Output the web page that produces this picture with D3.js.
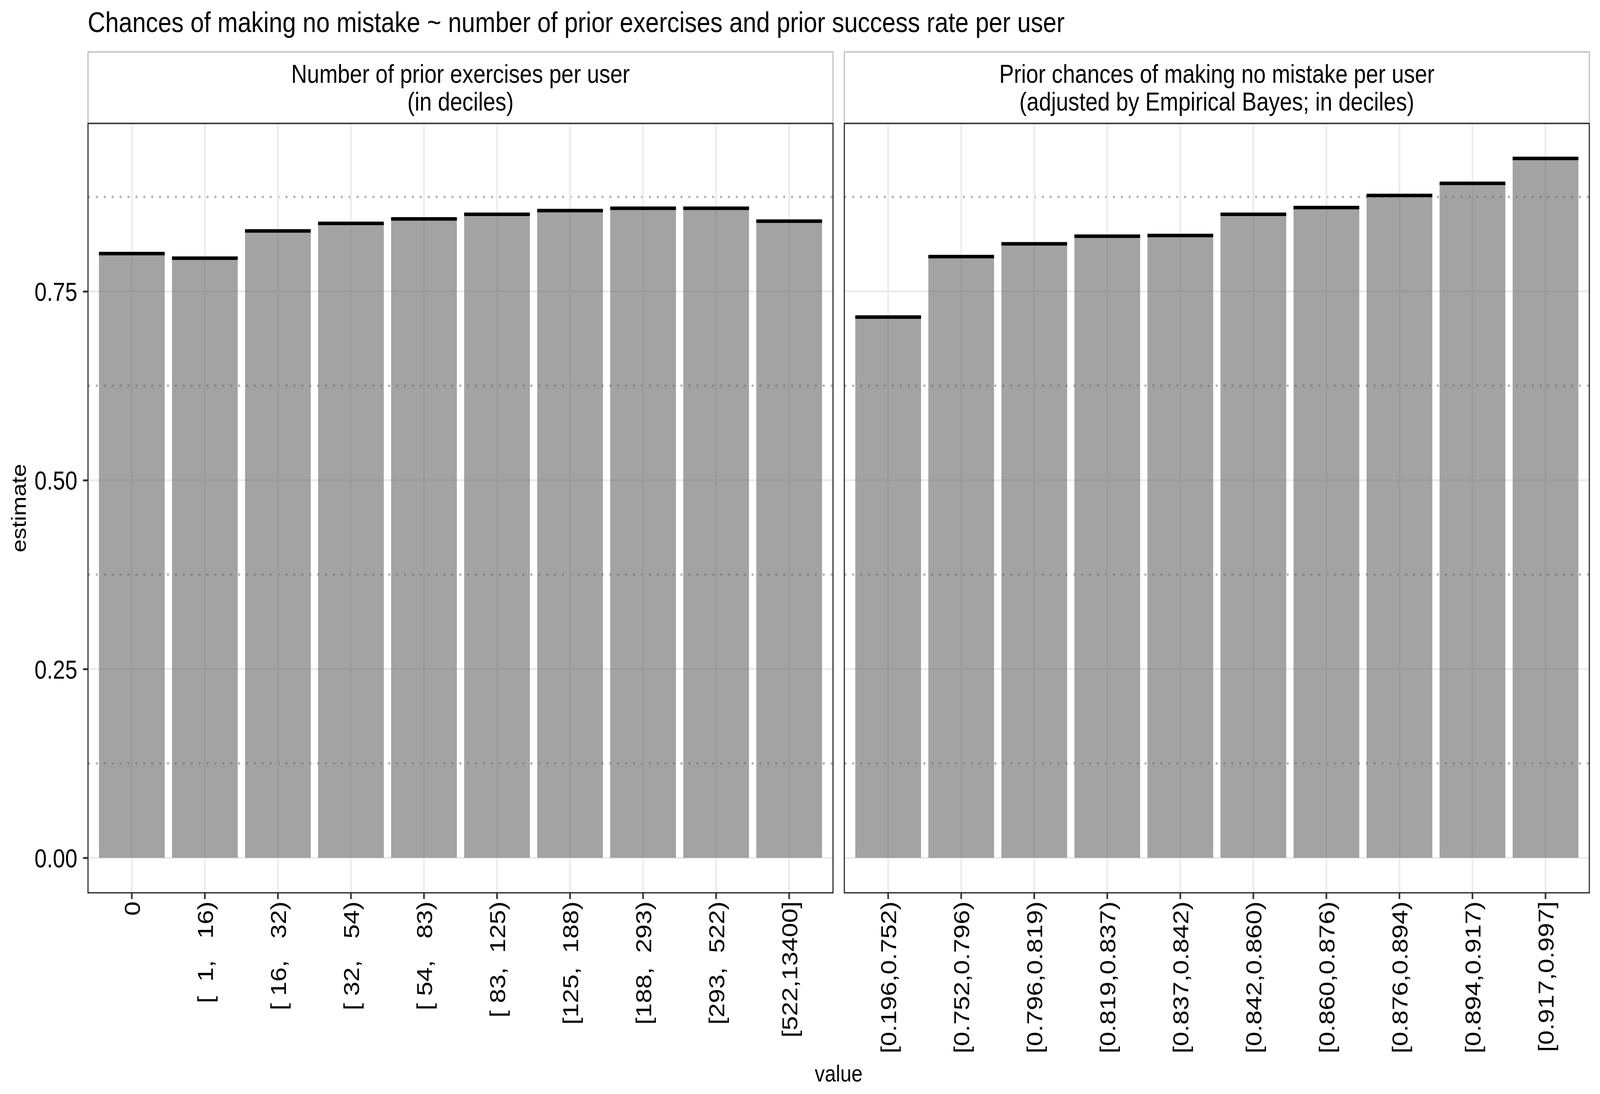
<!DOCTYPE html>
<html>
<head>
<meta charset="utf-8">
<script src="https://cdnjs.cloudflare.com/ajax/libs/d3/7.8.5/d3.min.js"></script>
<style>
  html, body { margin: 0; padding: 0; background: #fff; overflow: hidden; }
  svg { display: block; width: 100vw; height: 100vh; }
  text { font-family: "Liberation Sans", Arial, Helvetica, sans-serif; fill: #000; }
  .tick text { white-space: pre; }
</style>
</head>
<body>
<svg id="chart"></svg>
<script>
// categories and values
var leftLabels = ["0", "[  1,   16)", "[ 16,   32)", "[ 32,   54)", "[ 54,   83)",
                  "[ 83,  125)", "[125,  188)", "[188,  293)", "[293,  522)", "[522,13400]"];
var leftEstimates = [0.800, 0.794, 0.830, 0.840, 0.846, 0.852, 0.857, 0.860, 0.860, 0.843];

var rightLabels = ["[0.196,0.752)", "[0.752,0.796)", "[0.796,0.819)", "[0.819,0.837)", "[0.837,0.842)",
                   "[0.842,0.860)", "[0.860,0.876)", "[0.876,0.894)", "[0.894,0.917)", "[0.917,0.997]"];
var rightEstimates = [0.716, 0.796, 0.813, 0.823, 0.824, 0.852, 0.861, 0.877, 0.893, 0.926];

var stripLines = [
  ["Number of prior exercises per user", "(in deciles)"],
  ["Prior chances of making no mistake per user", "(adjusted by Empirical Bayes; in deciles)"]
];
var majorTicks = [0, 0.25, 0.5, 0.75];
var minorTicks = [0.125, 0.375, 0.625, 0.875];

var titleText = "Chances of making no mistake ~ number of prior exercises and prior success rate per user";

var screen = {width: 4800, height: 2800};
var panelTop = 316, panelBottom = 2285;
var panels = [
  {x0: 264, x1: 2499, labels: leftLabels, values: leftEstimates, strip: stripLines[0]},
  {x0: 2533, x1: 4768, labels: rightLabels, values: rightEstimates, strip: stripLines[1]}
];

// drawn in a 4800x2800 box, stretched to fill the whole window
var svg = d3.select("#chart")
  .attr("viewBox", "0 0 " + screen.width + " " + screen.height)
  .attr("preserveAspectRatio", "none");

var maxVal = d3.max(leftEstimates.concat(rightEstimates));
var yScale = d3.scaleLinear()
  .domain([-0.05 * maxVal, 1.05 * maxVal])
  .range([panelBottom, panelTop]);

svg.append("text")
  .text(titleText)
  .attr("x", 263)
  .attr("y", 82)
  .style("font-size", "73px");

var drawPanel = function(p, idx)
{
  var w = p.x1 - p.x0;
  var xScale = d3.scaleBand()
    .domain(p.labels)
    .range([0, w])
    .paddingInner(0.1)
    .paddingOuter(0.15);

  var g = svg.append("g")
    .attr("transform", "translate(" + p.x0 + "," + 0 + ")");

  // strip
  g.append("rect")
    .attr("x", 0).attr("y", 133)
    .attr("width", w).attr("height", panelTop - 134)
    .attr("fill", "#fff")
    .attr("stroke", "#b8b8b8")
    .attr("stroke-width", 3);
  g.append("text")
    .attr("text-anchor", "middle")
    .attr("x", w / 2).attr("y", 212)
    .style("font-size", "66px")
    .text(p.strip[0]);
  g.append("text")
    .attr("text-anchor", "middle")
    .attr("x", w / 2).attr("y", 283)
    .style("font-size", "66px")
    .text(p.strip[1]);

  // grid
  g.selectAll(".minor")
    .data(minorTicks)
    .enter().append("line")
    .attr("x1", 0).attr("x2", w)
    .attr("y1", function(d) { return yScale(d); })
    .attr("y2", function(d) { return yScale(d); })
    .attr("stroke", "#b3b3b3")
    .attr("stroke-width", 6)
    .attr("stroke-dasharray", "6 17.7");
  g.selectAll(".major")
    .data(majorTicks)
    .enter().append("line")
    .attr("x1", 0).attr("x2", w)
    .attr("y1", function(d) { return yScale(d); })
    .attr("y2", function(d) { return yScale(d); })
    .attr("stroke", "#ebebeb")
    .attr("stroke-width", 5);
  g.selectAll(".vgrid")
    .data(p.labels)
    .enter().append("line")
    .attr("x1", function(d) { return xScale(d) + xScale.bandwidth() / 2; })
    .attr("x2", function(d) { return xScale(d) + xScale.bandwidth() / 2; })
    .attr("y1", panelTop).attr("y2", panelBottom)
    .attr("stroke", "#ebebeb")
    .attr("stroke-width", 5);

  // bars
  g.selectAll(".bar")
    .data(p.values)
    .enter().append("rect")
    .attr("x", function(d, i) { return xScale(p.labels[i]); })
    .attr("width", xScale.bandwidth())
    .attr("y", function(d) { return yScale(d); })
    .attr("height", function(d) { return yScale(0) - yScale(d); })
    .attr("fill", "#666")
    .attr("fill-opacity", 0.6);

  // error bars (very narrow intervals)
  g.selectAll(".err")
    .data(p.values)
    .enter().append("line")
    .attr("x1", function(d, i) { return xScale(p.labels[i]); })
    .attr("x2", function(d, i) { return xScale(p.labels[i]) + xScale.bandwidth(); })
    .attr("y1", function(d) { return yScale(d); })
    .attr("y2", function(d) { return yScale(d); })
    .attr("stroke", "#000")
    .attr("stroke-width", 9);

  // border
  g.append("rect")
    .attr("x", 0).attr("y", panelTop)
    .attr("width", w).attr("height", panelBottom - panelTop)
    .attr("fill", "none")
    .attr("stroke", "#333")
    .attr("stroke-width", 3.5);

  // x axis
  var xAxis = d3.axisBottom(xScale).tickSize(16).tickSizeOuter(0);
  var ax = g.append("g")
    .attr("transform", "translate(0," + panelBottom + ")")
    .call(xAxis);
  ax.select(".domain").remove();
  ax.selectAll(".tick line").attr("stroke", "#333").attr("stroke-width", 5);
  ax.selectAll(".tick text")
    .attr("transform", "rotate(-90)")
    .attr("x", -22)
    .attr("y", 0)
    .attr("dy", "0.36em")
    .style("text-anchor", "end")
    .style("font-size", "66px")
    .style("font-family", "'Liberation Sans', Arial, sans-serif")
    .attr("fill", "#000");

  if (idx == 0)
  {
    var yAxis = d3.axisLeft(yScale)
      .tickValues(majorTicks)
      .tickFormat(d3.format(".2f"))
      .tickSize(15)
      .tickPadding(17);
    var ay = g.append("g").call(yAxis);
    ay.select(".domain").remove();
    ay.selectAll(".tick line").attr("stroke", "#333").attr("stroke-width", 5);
    ay.selectAll(".tick text")
      .attr("dy", "0.36em")
      .style("font-size", "66px")
      .style("font-family", "'Liberation Sans', Arial, sans-serif")
      .attr("fill", "#000");
  }
};

panels.forEach(drawPanel);

// axis titles
svg.append("text")
  .text("value")
  .attr("text-anchor", "middle")
  .attr("x", (panels[0].x0 + panels[1].x1) / 2)
  .attr("y", 2768)
  .style("font-size", "60px");

svg.append("text")
  .text("estimate")
  .attr("text-anchor", "middle")
  .attr("transform", "translate(77," + ((panelTop + panelBottom) / 2) + ") rotate(-90)")
  .style("font-size", "60px");
</script>
</body>
</html>
